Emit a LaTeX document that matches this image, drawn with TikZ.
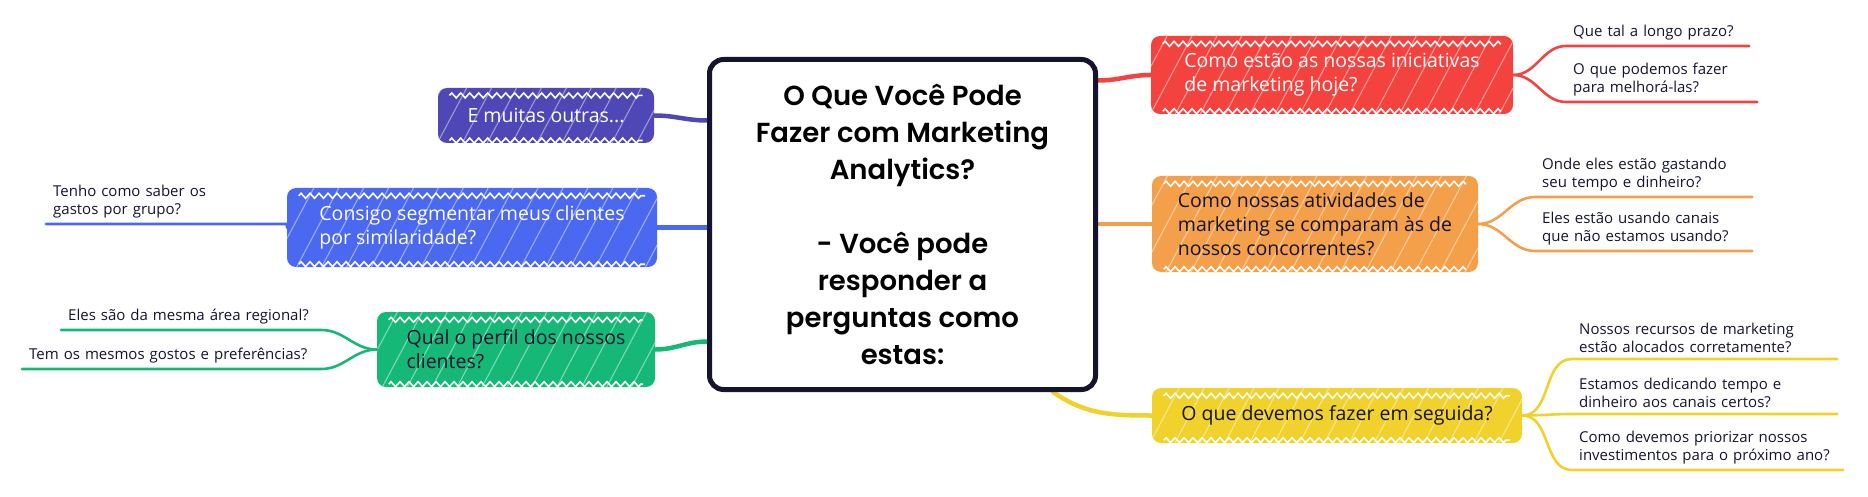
\documentclass[tikz,border=0pt]{standalone}
\usepackage{fontspec}
\setmainfont{Open Sans}
\newfontfamily\titlefont{Poppins}[BoldFont={Poppins SemiBold}]
\usetikzlibrary{patterns.meta,backgrounds,decorations.pathmorphing}

\definecolor{ink}{HTML}{14142E}
\definecolor{mpurple}{HTML}{4E47B5}
\definecolor{mblue}{HTML}{4B68F0}
\definecolor{mgreen}{HTML}{16B877}
\definecolor{mred}{HTML}{F4433F}
\definecolor{morange}{HTML}{F4A04B}
\definecolor{myellow}{HTML}{F1D12C}

\begin{document}
\begin{tikzpicture}[
x=1pt, y=-1pt,
topic/.style={rounded corners=9pt, preaction={fill=#1},
  pattern={Lines[angle=62,distance=22pt,line width=1.1pt]}, pattern color=white!45!#1,
  align=left, inner sep=0pt, font=\fontsize{19.5}{24}\selectfont},
light/.style={text=white},
dark/.style={text=ink},
teeth/.style={white, line width=1.6pt, decorate, decoration={zigzag, segment length=9pt, amplitude=2.5pt}},
leaf/.style={anchor=south west, inner xsep=7pt, inner ysep=6pt, align=left, text=ink, font=\fontsize{15}{18}\selectfont},
limb/.style={line width=4.5pt, draw=#1, line cap=round},
twig/.style={line width=2.6pt, draw=#1, line cap=round},
hub/.style={draw=ink, line width=5pt, fill=white, rounded corners=14pt, align=center,
  font=\titlefont\bfseries\fontsize{27.5}{37}\selectfont}
]
\useasboundingbox (0,0) rectangle (1868,497);

%%% centre
\node[hub, minimum width=386pt, minimum height=330pt] (hub) at (902.5,224.5)
  {O Que Você Pode\\Fazer com Marketing\\Analytics?\\[37pt]- Você pode\\responder a\\perguntas como\\estas:};

%%% topics
\node[topic=mpurple, light, align=center, minimum width=216pt, minimum height=55pt] (others) at (546,115.5) {E muitas outras...};
\node[topic=mblue, light, minimum width=370pt, minimum height=79pt] (segment) at (472,227.5)
  {Consigo segmentar meus clientes\\por similaridade?};
\node[topic=mgreen, dark, minimum width=278pt, minimum height=75pt] (profile) at (516,349.5)
  {Qual o perfil dos nossos\\clientes?};
\node[topic=mred, light, minimum width=362pt, minimum height=78pt] (today) at (1332,75)
  {Como estão as nossas iniciativas\\de marketing hoje?};
\node[topic=morange, dark, minimum width=326pt, minimum height=96pt] (rivals) at (1315,224)
  {Como nossas atividades de\\marketing se comparam às de\\nossos concorrentes?};
\node[topic=myellow, dark, minimum width=370pt, minimum height=55pt] (next) at (1337,415.5)
  {O que devemos fazer em seguida?};

\foreach \t in {others,segment,profile,today,rivals,next}{
  \draw[teeth] ([xshift=12pt,yshift=-8pt]\t.north west) -- ([xshift=-12pt,yshift=-8pt]\t.north east);
  \draw[teeth] ([xshift=12pt,yshift=3pt]\t.south west) -- ([xshift=-12pt,yshift=3pt]\t.south east);
}

%%% limbs
\begin{pgfonlayer}{background}
\draw[limb=mpurple] (others.east) to[out=0,in=180] ([yshift=104pt]hub.west);
\draw[limb=mblue] (segment.east) -- (hub.west |- segment.east);
\draw[limb=mgreen] (profile.east) to[out=0,in=180] ([yshift=-117pt]hub.west);
\draw[limb=mred] ([yshift=144pt]hub.east) to[out=0,in=180] (today.west);
\draw[limb=morange] (hub.east |- rivals.west) -- (rivals.west);
\draw[limb=myellow] ([xshift=-45pt]hub.south east) to[out=-35,in=180] (next.west);
\end{pgfonlayer}

%%% leaves
\node[leaf, text width=227pt] (b1) at (46,224) {Tenho como saber os\\gastos por grupo?};
\draw[twig=mblue] (b1.south west) -- (b1.south east) -- (segment.west);

\foreach \name/\x/\y/\tw/\txt in {
	g1/61/330/246/Eles são da mesma área regional?,
	g2/22/369/285/Tem os mesmos gostos e preferências?
	}{
	\node[leaf, text width=\tw pt] (\name) at (\x,\y) {\txt};
	\draw[twig=mgreen] (\name.south west) -- (\name.south east) to[out=0,in=180] (profile.west);
}

\foreach \name/\y/\tw/\txt in {
	r1/46/169/Que tal a longo prazo?,
	r2/102/177/{O que podemos fazer\\para melhorá-las?}
	}{
	\node[leaf, text width=\tw pt] (\name) at (1566,\y) {\txt};
	\draw[twig=mred] (today.east) to[out=0,in=180] (\name.south west) -- (\name.south east);
}

\foreach \name/\y/\txt in {
	o1/197/{Onde eles estão gastando\\seu tempo e dinheiro?},
	o2/251/{Eles estão usando canais\\que não estamos usando?}
	}{
	\node[leaf, text width=203pt] (\name) at (1535,\y) {\txt};
	\draw[twig=morange] (rivals.east) to[out=0,in=180] (\name.south west) -- (\name.south east);
}

\foreach \name/\y/\tw/\txt in {
	y1/359/251/{Nossos recursos de marketing\\estão alocados corretamente?},
	y2/414/251/{Estamos dedicando tempo e\\dinheiro aos canais certos?},
	y3/470/257/{Como devemos priorizar nossos\\investimentos para o próximo ano?}
	}{
	\node[leaf, text width=\tw pt] (\name) at (1572,\y) {\txt};
	\draw[twig=myellow] (next.east) to[out=0,in=180] (\name.south west) -- (\name.south east);
}

\end{tikzpicture}
\end{document}
